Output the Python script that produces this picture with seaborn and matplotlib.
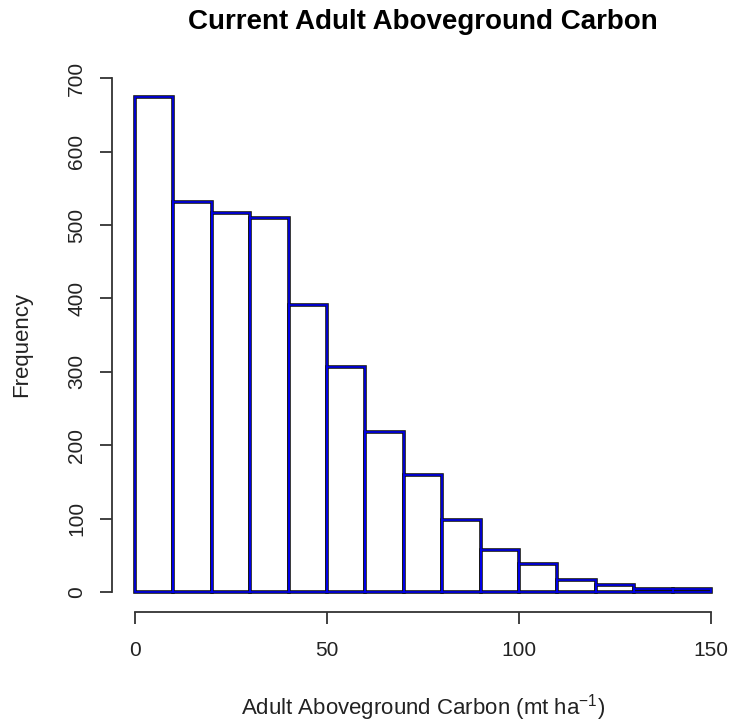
import numpy as np
import pandas as pd
import seaborn as sns
import matplotlib
matplotlib.use("Agg")
import matplotlib.pyplot as plt

# ---- data ----
bin_edges = [0, 10, 20, 30, 40, 50, 60, 70, 80, 90, 100, 110, 120, 130, 140, 150]
counts = [674, 532, 517, 509, 391, 307, 218, 159, 98, 57, 39, 17, 10, 4, 4]
x_ticks = [0, 50, 100, 150]
y_ticks = [0, 100, 200, 300, 400, 500, 600, 700]
title = "Current Adult Aboveground Carbon"
xlabel = r"Adult Aboveground Carbon (mt ha$^{-1}$)"
ylabel = "Frequency"

centers = [(a + b) / 2 for a, b in zip(bin_edges[:-1], bin_edges[1:])]
df = pd.DataFrame({"carbon": centers, "n": counts})

sns.set_style("white")
plt.rcParams["font.family"] = ["Liberation Sans", "DejaVu Sans"]
plt.rcParams["mathtext.fontset"] = "custom"
plt.rcParams["mathtext.rm"] = "Liberation Sans"
plt.rcParams["mathtext.it"] = "Liberation Sans"

fig = plt.figure(figsize=(7.31, 7.25), dpi=100)
ax = fig.add_axes([112 / 731, 113 / 725, 622 / 731, 534.5 / 725])

# outer dark outline
sns.histplot(data=df, x="carbon", weights="n", bins=bin_edges, ax=ax,
             color="white", edgecolor="#111111", linewidth=2.6, alpha=1.0)
# inner blue outline
sns.histplot(data=df, x="carbon", weights="n", bins=bin_edges, ax=ax,
             fill=False, color="#0000ee", linewidth=1.2)

ax.set_xlim(-6, 156)
ax.set_ylim(-26.96, 700.96)

for s in ["top", "right"]:
    ax.spines[s].set_visible(False)
for s in ["left", "bottom"]:
    ax.spines[s].set_visible(True)
    ax.spines[s].set_color("#333333")
    ax.spines[s].set_linewidth(1.3)
ax.spines["bottom"].set_bounds(0, 150)
ax.spines["left"].set_bounds(0, 700)

ax.set_xticks(x_ticks)
ax.set_xticklabels([str(v) for v in x_ticks], fontsize=15, color="#222222")
ax.set_yticks(y_ticks)
ax.set_yticklabels([str(v) for v in y_ticks], fontsize=15, color="#222222",
                   rotation=90, va="center")
ax.tick_params(axis="both", direction="out", length=8.6, width=1.3,
               color="#333333", left=True, bottom=True)
ax.tick_params(axis="x", pad=12)
ax.tick_params(axis="y", pad=10)

ax.set_xlabel(xlabel, fontsize=16, color="#222222", va="center", ha="center")
ax.xaxis.set_label_coords(0.5, (612 - 708) / 534.5)
ax.set_ylabel(ylabel, fontsize=16, color="#222222", va="center", ha="center")
ax.yaxis.set_label_coords((22 - 112) / 622, 0.5)

ax.set_title(title, fontsize=20, fontweight="bold", color="black",
             y=(612 - 22) / 534.5, va="center", pad=0)

fig.savefig("out.png", dpi=100)
